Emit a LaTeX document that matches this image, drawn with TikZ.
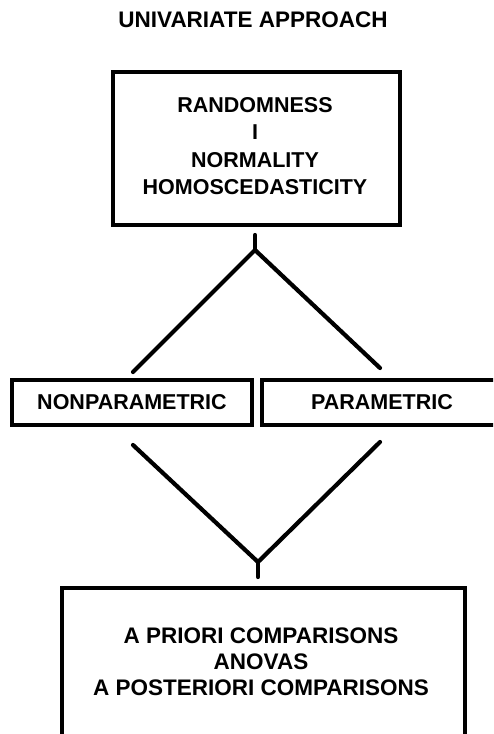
\documentclass[tikz,border=0pt]{standalone}
\usepackage{fontspec}
\setmainfont{Liberation Sans}
\begin{document}
\begin{tikzpicture}[x=1pt,y=-1pt,
  lbl/.style={font=\bfseries\fontsize{21.5}{27.3}\selectfont, align=center, inner sep=0pt},
  lblw/.style={font=\bfseries\fontsize{22.5}{26}\selectfont, align=center, inner sep=0pt},
  boxed/.style={draw, line width=4.2pt, inner sep=0pt, font=\bfseries\fontsize{21.5}{27.3}\selectfont},
  conn/.style={line width=4.2pt, line cap=round, line join=round}]
\useasboundingbox (0,0) rectangle (493,734);
\clip (0,0) rectangle (493,734);
\node[lblw] (title) at (253,19.5) {UNIVARIATE APPROACH};
% top box
\node[boxed, minimum width=287pt, minimum height=153pt] (top) at (256.5,148.5) {};
\node[lbl] (toptxt) at (255,146) {RANDOMNESS\\I\\NORMALITY\\HOMOSCEDASTICITY};
% upper Y connector
\coordinate (ys) at (255,235);
\coordinate (yj) at (255,250);
\coordinate (yl) at (133,372);
\coordinate (yr) at (380,368);
\draw[conn] (ys) -- (yj);
\draw[conn] (yl) -- (yj) -- (yr);
% middle boxes
\node[boxed, minimum width=240pt, minimum height=45pt] (np) at (132,402.5) {NONPARAMETRIC};
\node[boxed, minimum width=240pt, minimum height=45pt] (p) at (382,402.5) {PARAMETRIC};
% lower V connector
\coordinate (vl) at (133,445);
\coordinate (vr) at (380,442);
\coordinate (vj) at (258,562);
\coordinate (ve) at (258,577);
\draw[conn] (vl) -- (vj) -- (vr);
\draw[conn] (vj) -- (ve);
% bottom box
\node[boxed, minimum width=403pt, minimum height=180pt] (bot) at (263.5,678) {};
\node[lblw] (bottxt) at (261,662) {A PRIORI COMPARISONS\\ANOVAS\\A POSTERIORI COMPARISONS};
\end{tikzpicture}
\end{document}
